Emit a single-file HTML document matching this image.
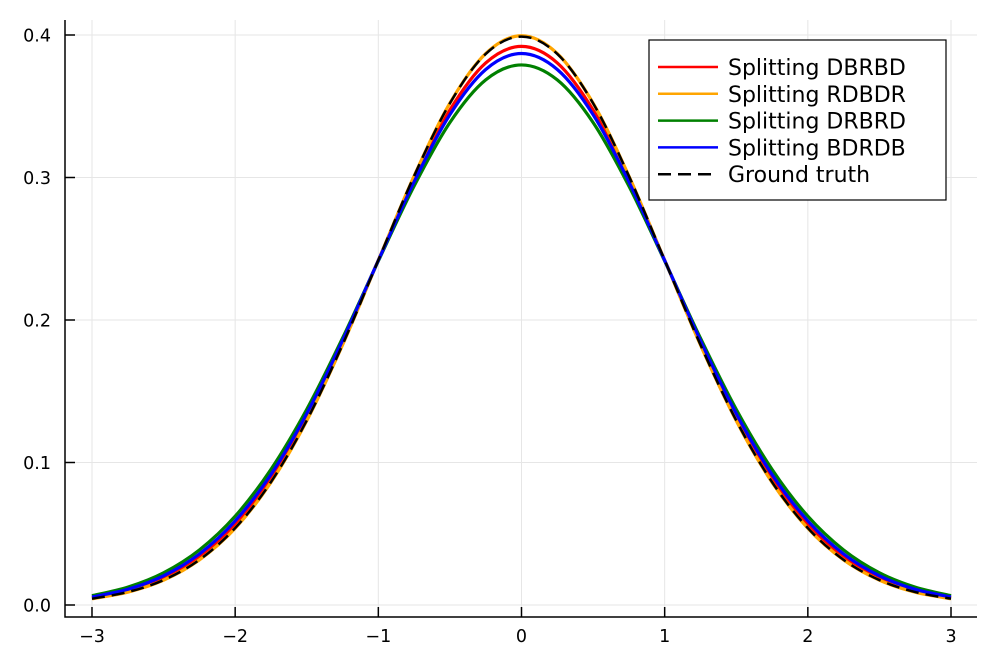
<!DOCTYPE html>
<html><head><meta charset="utf-8"><style>
html,body{margin:0;padding:0;background:#fff;}
svg{display:block;font-family:"DejaVu Sans","Liberation Sans",sans-serif;}
</style></head><body>
<svg id="chart" width="997" height="664" viewBox="0 0 997 664" xmlns="http://www.w3.org/2000/svg">
<g id="grid"></g>
<g id="series"></g>
<g id="axes"></g>
<g id="legend"></g>
</svg>
<script>
const xValues = [-3,-2.75,-2.5,-2.25,-2,-1.75,-1.5,-1.25,-1,-0.75,-0.5,-0.25,0,0.25,0.5,0.75,1,1.25,1.5,1.75,2,2.25,2.5,2.75,3];
const redHalf = [0.3920,0.3804,0.3474,0.2988,0.2419,0.1844,0.1323,0.0894,0.0568,0.0340,0.0192,0.0102,0.0051];
const orangeHalf = [0.3995,0.3870,0.3522,0.3011,0.2419,0.1825,0.1293,0.0861,0.0538,0.0316,0.0174,0.0090,0.0044];
const greenHalf = [0.3790,0.3685,0.3386,0.2940,0.2414,0.1873,0.1373,0.0952,0.0623,0.0386,0.0226,0.0125,0.0065];
const blueHalf = [0.3870,0.3758,0.3441,0.2970,0.2418,0.1856,0.1343,0.0916,0.0590,0.0358,0.0205,0.0110,0.0056];
const truthHalf = [0.3989,0.3867,0.3521,0.3011,0.2420,0.1826,0.1295,0.0863,0.0540,0.0317,0.0175,0.0091,0.0044];
const xTicks = [-3,-2,-1,0,1,2,3];
const xTickLabels = ["\u22123","\u22122","\u22121","0","1","2","3"];
const yTicks = [0,0.1,0.2,0.3,0.4];
const yTickLabels = ["0.0","0.1","0.2","0.3","0.4"];
const seriesNames = ["Splitting DBRBD","Splitting RDBDR","Splitting DRBRD","Splitting BDRDB","Ground truth"];

function full(h){ return h.slice(1).reverse().concat(h); }
const seriesValues = [full(redHalf), full(orangeHalf), full(greenHalf), full(blueHalf), full(truthHalf)];
const colors = ["#ff0000","#ffa500","#008000","#0000ff","#000000"];
const NS = "http://www.w3.org/2000/svg";
const X = v => 521.5 + v*143.17;
const Y = v => 605 - v*1425;
const L=65,R=977,T=20,B=617;
function mk(tag, attrs, parent){ const e=document.createElementNS(NS,tag); for(const k in attrs) e.setAttribute(k,attrs[k]); parent.appendChild(e); return e; }
const grid=document.getElementById('grid'), ser=document.getElementById('series'), axes=document.getElementById('axes'), leg=document.getElementById('legend');

xTicks.forEach((t,i)=>{
  const g=mk('line',{x1:X(t),x2:X(t),y1:T,y2:B,stroke:'#e6e6e6','stroke-width':1},grid);
  
  
  const tk=mk('line',{x1:X(t),x2:X(t),y1:B,y2:B-10,stroke:'#000','stroke-width':1.5},axes);
  
  
  const tx=mk('text',{x:X(t),y:642,'text-anchor':'middle','font-size':17.5,fill:'#000'},axes);
  tx.textContent=xTickLabels[i];
  
  
});
yTicks.forEach((t,i)=>{
  const g=mk('line',{x1:L,x2:R,y1:Y(t),y2:Y(t),stroke:'#e6e6e6','stroke-width':1},grid);
  
  
  const tk=mk('line',{x1:L,x2:L+10,y1:Y(t),y2:Y(t),stroke:'#000','stroke-width':1.5},axes);
  
  
  const tx=mk('text',{x:51,y:Y(t)+6.5,'text-anchor':'end','font-size':17.5,fill:'#000'},axes);
  tx.textContent=yTickLabels[i];
  
  
});
const ax=mk('path',{d:`M${L},${T} L${L},${B} L${R},${B}`,fill:'none',stroke:'#000','stroke-width':1.5},axes);



function smooth(vals){
  const p=vals.map((v,i)=>[X(xValues[i]),Y(v)]);
  let d=`M${p[0][0]},${p[0][1]}`;
  for(let i=0;i<p.length-1;i++){
    const p0=p[Math.max(0,i-1)],p1=p[i],p2=p[i+1],p3=p[Math.min(p.length-1,i+2)];
    const c1=[p1[0]+(p2[0]-p0[0])/6,p1[1]+(p2[1]-p0[1])/6];
    const c2=[p2[0]-(p3[0]-p1[0])/6,p2[1]-(p3[1]-p1[1])/6];
    d+=` C${c1[0]},${c1[1]} ${c2[0]},${c2[1]} ${p2[0]},${p2[1]}`;
  }
  return d;
}
seriesValues.forEach((vals,i)=>{
  const a={d:smooth(vals),fill:'none',stroke:colors[i],'stroke-width':i===4?2.5:3.2};
  if(i===4) a['stroke-dasharray']='13 7';
  const p=mk('path',a,ser);
  
  
});

const box=mk('rect',{x:649,y:40,width:297,height:160,fill:'#fff',stroke:'#000','stroke-width':1.2},leg);


seriesNames.forEach((n,i)=>{
  const y=67+i*26.8;
  const a={x1:658,x2:718,y1:y,y2:y,stroke:colors[i],'stroke-width':2.5};
  if(i===4) a['stroke-dasharray']='13 7';
  const l=mk('line',a,leg);
  
  
  const t=mk('text',{x:728,y:y+8,'font-size':22,fill:'#000'},leg);
  t.textContent=n;
  
  
});
</script>
</body></html>
